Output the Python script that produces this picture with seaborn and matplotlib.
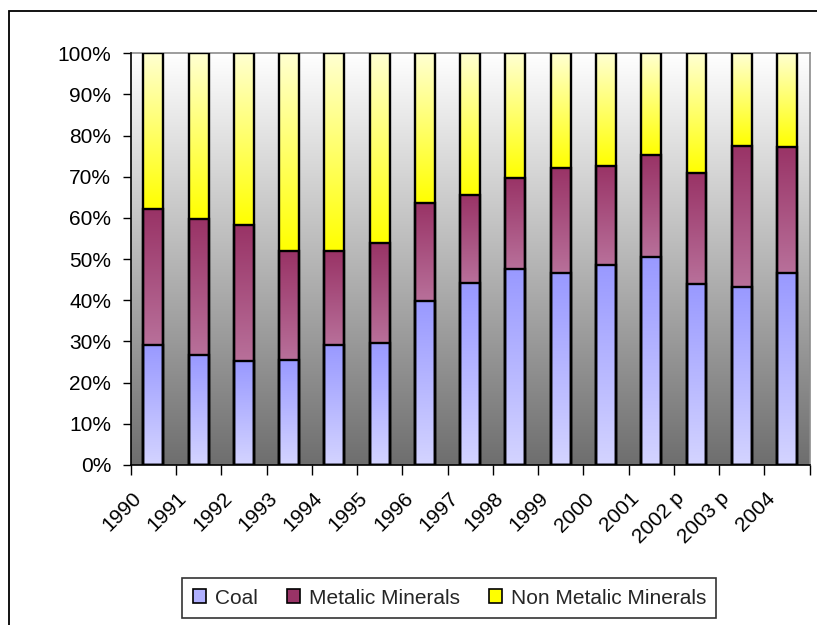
#!/usr/bin/env python3
"""Share of mining output by mineral group, 1990-2004 (100% stacked bars)."""

import matplotlib
matplotlib.use("Agg")

import matplotlib.pyplot as plt
import numpy as np
import seaborn as sns
from matplotlib.colors import LinearSegmentedColormap
from matplotlib.patches import Patch, Rectangle
from matplotlib.ticker import FixedLocator, FuncFormatter
from matplotlib.transforms import ScaledTranslation

# share of total (%) per year
years = ["1990", "1991", "1992", "1993", "1994", "1995", "1996", "1997",
         "1998", "1999", "2000", "2001", "2002 p", "2003 p", "2004"]
coal = [29.1, 26.7, 25.2, 25.6, 29.1, 29.5, 39.7, 44.1,
        47.5, 46.5, 48.5, 50.5, 44.0, 43.1, 46.5]
metallic = [33.0, 33.0, 33.0, 26.3, 22.8, 24.3, 23.9, 21.4,
            22.3, 25.7, 24.2, 24.7, 26.9, 34.4, 30.6]
non_metallic = [37.9, 40.3, 41.8, 48.1, 48.1, 46.2, 36.4, 34.5,
                30.2, 27.8, 27.3, 24.8, 29.1, 22.5, 22.9]

series = ["Coal", "Metalic Minerals", "Non Metalic Minerals"]
# (top colour, bottom colour) of each segment gradient
gradients = {
    "Coal": ("#9999FF", "#D4D4FF"),
    "Metalic Minerals": ("#993366", "#B8709A"),
    "Non Metalic Minerals": ("#FFFFD2", "#FFFF00"),
}
legend_colors = {"Coal": "#B0B0FF", "Metalic Minerals": "#993366",
                 "Non Metalic Minerals": "#FFFF00"}


def vertical_cmap(top, bottom):
    return LinearSegmentedColormap.from_list("g", [bottom, top])


def main() -> None:
    sns.set_theme(style="white")
    plt.rcParams["font.family"] = ["Liberation Sans", "DejaVu Sans"]

    fig = plt.figure(figsize=(8.17, 6.25), dpi=100)
    ax = fig.add_axes([0.160, 0.256, 0.831, 0.659])

    lower = np.zeros(len(years))
    seg_bounds = {}
    for name, vals in zip(series, [coal, metallic, non_metallic]):
        upper = lower + np.array(vals)
        seg_bounds[name] = (lower.copy(), upper.copy())
        lower = upper

    # outlines: draw cumulative totals tallest first so edges mark the joins
    width = 0.44
    for name in reversed(series):
        sns.barplot(x=years, y=seg_bounds[name][1], order=years, color="white",
                    width=width, edgecolor="black", linewidth=1.7,
                    fill=False, ax=ax, zorder=5)

    # gradient fill for each segment
    grad = np.linspace(0, 1, 256).reshape(-1, 1)
    for name in series:
        lo, hi = seg_bounds[name]
        cmap = vertical_cmap(*gradients[name])
        for i in range(len(years)):
            ax.imshow(grad, cmap=cmap, origin="lower", aspect="auto",
                      extent=(i - width / 2, i + width / 2, lo[i], hi[i]),
                      interpolation="bilinear", zorder=3)

    # grey plot-area gradient
    bg = vertical_cmap("#FFFFFF", "#6E6E6E")
    ax.imshow(grad, cmap=bg, origin="lower", aspect="auto",
              extent=(-0.5, len(years) - 0.5, 0, 100),
              interpolation="bilinear", zorder=1)

    ax.set_xlim(-0.5, len(years) - 0.5)
    ax.set_ylim(0, 100)

    ax.set_yticks(np.arange(0, 101, 10))
    ax.yaxis.set_major_formatter(FuncFormatter(lambda v, _: f"{v:.0f}%"))
    ax.tick_params(axis="y", which="major", left=True, length=6, width=1,
                   color="black", pad=8, labelsize=15, labelcolor="black")

    ax.set_xticks(range(len(years)))
    ax.set_xticklabels(years)
    ax.xaxis.set_minor_locator(FixedLocator(np.arange(-0.5, len(years), 1)))
    ax.tick_params(axis="x", which="major", bottom=True, length=0, pad=22,
                   labelsize=15, labelcolor="black")
    ax.tick_params(axis="x", which="minor", bottom=True, length=7, width=1,
                   color="black")
    shift = ScaledTranslation(-0.15, 0, fig.dpi_scale_trans)
    for lab in ax.get_xticklabels():
        lab.set_rotation(45)
        lab.set_ha("right")
        lab.set_va("center")
        lab.set_rotation_mode("anchor")
        lab.set_transform(lab.get_transform() + shift)

    ax.set_xlabel("")
    ax.set_ylabel("")
    for side in ["left", "bottom"]:
        ax.spines[side].set_color("black")
        ax.spines[side].set_linewidth(1.2)
        ax.spines[side].set_zorder(6)
    for side in ["top", "right"]:
        ax.spines[side].set_color("#8C8C8C")
        ax.spines[side].set_linewidth(1.2)
    ax.grid(False)

    handles = [Patch(facecolor=legend_colors[s], edgecolor="black",
                     linewidth=1.2, label=s) for s in series]
    leg = fig.legend(handles=handles, loc="center", ncol=3,
                     bbox_to_anchor=(0.55, 0.043), fontsize=15,
                     frameon=True, fancybox=False, shadow=False,
                     handlelength=0.65, handleheight=0.65,
                     handletextpad=0.4, columnspacing=1.4,
                     borderpad=0.5)
    leg.get_frame().set_edgecolor("black")
    leg.get_frame().set_linewidth(1.2)

    # chart border (runs off the right and bottom edges)
    fig.patches.append(Rectangle((9 / 817, -0.1), 1.2, 1.1 - 11 / 625,
                                 transform=fig.transFigure, fill=False,
                                 edgecolor="black", linewidth=1.3))

    fig.savefig("out.png", dpi=100, facecolor="white")
    plt.close(fig)


if __name__ == "__main__":
    main()
